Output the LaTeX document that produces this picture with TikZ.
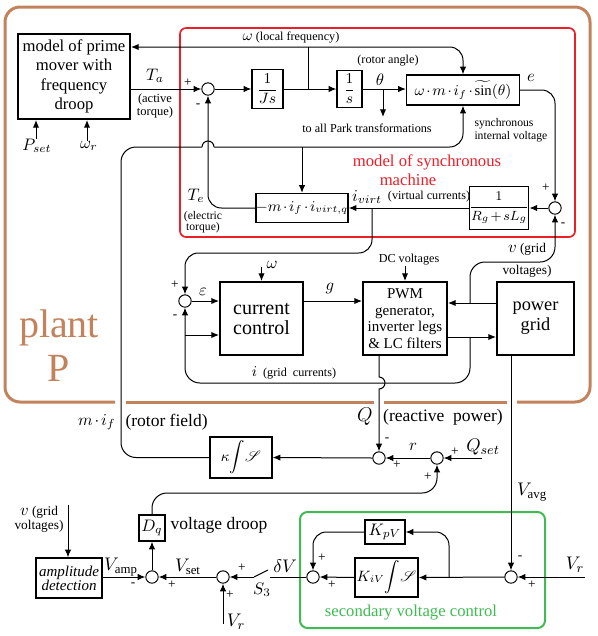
\documentclass[tikz,border=0pt]{standalone}
\usepackage{amsmath}
\usepackage{amssymb}
\usepackage{mathrsfs}
\usepackage{fontspec}
\setmainfont{Liberation Serif}
\usetikzlibrary{positioning,arrows.meta}

\definecolor{plantbrown}{RGB}{193,130,92}
\definecolor{machred}{RGB}{236,30,40}
\definecolor{ctrlgreen}{RGB}{64,186,82}

\begin{document}
\begin{tikzpicture}[x=0.6pt, y=-0.6pt, line width=0.6pt,
    >={Latex[length=4.6pt,width=3.8pt]},
    block/.style={draw, line width=0.8pt, inner sep=0pt, align=center, font=\fontsize{9}{10}\selectfont},
    mainblock/.style={draw, line width=1.2pt, inner sep=0pt, align=center},
    sumnode/.style={draw, circle, minimum size=7.4pt, inner sep=0pt},
    sgn/.style={inner sep=0pt, font=\fontsize{8}{8}\selectfont},
    note/.style={inner sep=0pt, align=center, font=\fontsize{7.3}{8.4}\selectfont},
    var/.style={inner sep=0pt, font=\fontsize{10}{11}\selectfont},
    region/.style={plantbrown, line width=1.8pt}]

    \useasboundingbox (0,0) rectangle (598,636);

    \draw [region, rounded corners=9pt] (115,402) -| (5,7) -| (590,402) -- (517,402);
    \draw [region] (507,402) -- (384,402);
    \draw [region] (374,402) -- (126,402);
    \draw [machred, line width=1pt, rounded corners=3.6pt] (180,28) rectangle (575,237);
    \draw [ctrlgreen, line width=1.2pt, rounded corners=4.5pt] (300,512) rectangle (545,628);

    \node [text=plantbrown, align=center, inner sep=0pt, font=\fontsize{24}{26.4}\selectfont] (plant) at (59,346) {plant\\P};
    \node [text=machred, inner sep=0pt, font=\fontsize{10}{11}\selectfont] (machtop) at (427,162) {model of synchronous};
    \node [text=machred, inner sep=0pt, font=\fontsize{10}{11}\selectfont] (machbot) at (408,180) {machine};
    \node [text=ctrlgreen, inner sep=0pt, font=\fontsize{10}{11}\selectfont] (secondary) at (411,613) {secondary voltage control};

    \node [mainblock, minimum width=67.2pt, minimum height=51pt, font=\fontsize{10}{11.7}\selectfont] (prime) at (74,76.5) {model of prime\\mover with\\frequency\\droop};
    \node [block, minimum width=18.6pt, minimum height=23.4pt] (Js) at (267.5,89) {$\dfrac{1}{Js}$};
    \node [block, minimum width=15pt, minimum height=22.2pt] (integ) at (349.5,89) {$\dfrac{1}{s}$};
    \node [block, minimum width=67.8pt, minimum height=18pt, font=\fontsize{8.8}{10}\selectfont] (emf) at (463,90) {\medmuskip=2mu $\omega\cdot m\cdot i_f\cdot\widetilde{\sin}(\theta)$};
    \node [block, minimum width=53.4pt, minimum height=17.4pt, font=\fontsize{8.8}{10}\selectfont] (torq) at (302,208) {\medmuskip=2mu $-m\cdot i_f\cdot i_{virt,q}$};
    \node [block, minimum width=34.8pt, minimum height=25.8pt, font=\fontsize{8.5}{10}\selectfont] (imp) at (499,208) {\medmuskip=2mu $\dfrac{1}{R_g+sL_g}$};
    \node [mainblock, minimum width=49.8pt, minimum height=43.8pt, font=\fontsize{12}{12}\selectfont] (cc) at (261.5,318.5) {current\\control};
    \node [mainblock, minimum width=50.4pt, minimum height=43.8pt, font=\fontsize{9}{10}\selectfont] (pwm) at (405,318.5) {PWM\\generator,\\inverter legs\\\& LC filters};
    \node [mainblock, minimum width=46.2pt, minimum height=43.8pt, font=\fontsize{11}{12}\selectfont] (grid) at (535.5,318.5) {power\\grid};
    \node [block, minimum width=37.2pt, minimum height=24.6pt] (kap) at (241,457.5) {$\kappa\!\displaystyle\int\!\mathscr{S}$};
    \node [block, minimum width=15.6pt, minimum height=15.6pt, font=\fontsize{10}{11}\selectfont] (dq) at (152,528) {$D_q$};
    \node [block, minimum width=24pt, minimum height=14.4pt, font=\fontsize{10}{11}\selectfont] (kpv) at (385,532) {$K_{pV}$};
    \node [block, minimum width=37.8pt, minimum height=23.4pt] (kiv) at (386.5,577.5) {$K_{iV}\!\displaystyle\int\!\mathscr{S}$};
    \node [block, minimum width=39.6pt, minimum height=24pt, font=\fontsize{9}{8.4}\selectfont\itshape] (amp) at (69,578) {amplitude\\detection};

    \node [sumnode] (sumT) at (208,89) {};
    \node [sumnode] (sumE) at (555,208) {};
    \node [sumnode] (sumI) at (185,301) {};
    \node [sumnode] (sumQ) at (379,458) {};
    \node [sumnode] (sumR) at (437,458) {};
    \node [sumnode] (sumA) at (511,577) {};
    \node [sumnode] (sumK) at (313,577) {};
    \node [sumnode] (sumV) at (223,577) {};
    \node [sumnode] (sumD) at (152,577) {};

    \node [sgn] (pT) at (188,83) {+};
    \node [sgn] (mT) at (198,106) {-};
    \node [sgn] (pE) at (546,188) {+};
    \node [sgn] (mE) at (563,225) {-};
    \node [sgn] (pI) at (175,285) {+};
    \node [sgn] (mI) at (175,317) {-};
    \node [sgn] (mQ) at (387,440) {-};
    \node [sgn] (pQ) at (397,465) {+};
    \node [sgn] (pR) at (455,452) {+};
    \node [sgn] (pRb) at (428,477) {+};
    \node [sgn] (mA) at (520,558) {-};
    \node [sgn] (pA) at (532,585) {+};
    \node [sgn] (pK) at (322,558) {+};
    \node [sgn] (pKb) at (332,585) {+};
    \node [sgn] (pV) at (242,568) {+};
    \node [sgn] (pVb) at (230,595) {+};
    \node [sgn] (mD) at (133,585) {-};
    \node [sgn] (pD) at (172,585) {+};

    \node [note] (omglbl) at (291,38) {{\fontsize{9}{9}\selectfont$\omega$} (local frequency)};
    \node [var] (Ta) at (155,76) {$T_a$};
    \node [note, font=\fontsize{7.5}{7.4}\selectfont] (Tanote) at (155,106) {(active\\torque)};
    \node [var] (thlbl) at (380,80) {$\theta$};
    \node [note] (rotang) at (388,61) {(rotor angle)};
    \node [note] (park) at (367,128) {to all Park transformations};
    \node [var] (elbl) at (531,78) {$e$};
    \node [note, align=left, anchor=west, font=\fontsize{7}{7.8}\selectfont] (synvolt) at (474,130) {synchronous\\internal voltage};
    \node [var] (Te) at (196,196) {$T_e$};
    \node [note, font=\fontsize{7}{6.6}\selectfont] (Tenote) at (203,222) {(electric\\torque)};
    \node [var] (ivirt) at (367,197) {$i_{virt}$};
    \node [note, right=3pt of ivirt] (virtcur) {(virtual currents)};
    \node [note, font=\fontsize{8}{8}\selectfont] (vgrid) at (527,249) {{\fontsize{10}{10}\selectfont$v$} (grid};
    \node [note, font=\fontsize{8}{8}\selectfont] (vgridb) at (527,271) {voltages)};
    \node [var] (eps) at (203,292) {$\varepsilon$};
    \node [var] (wcc) at (272,265) {$\omega$};
    \node [var] (glbl) at (330,289) {$g$};
    \node [note] (dc) at (409,260) {DC voltages};
    \node [note] (igrid) at (294,373) {{\fontsize{9}{9}\selectfont$i$}\ \ (grid\ \ currents)};
    \node [var, anchor=east] (mif) at (116,422) {\medmuskip=2mu $m\cdot i_f$};
    \node [var, anchor=west, font=\fontsize{10.5}{11}\selectfont] (rotfield) at (125,422) {(rotor field)};
    \node [var, font=\fontsize{12}{12}\selectfont] (Qlbl) at (365,417) {$Q$};
    \node [var, font=\fontsize{10.5}{11}\selectfont] (reacpow) at (443,417) {(reactive\ \ power)};
    \node [var] (rlbl) at (413,447) {$r$};
    \node [var, font=\fontsize{11}{11}\selectfont] (Qset) at (483,447) {$Q_{set}$};
    \node [var, font=\fontsize{11}{11}\selectfont] (Vavg) at (532,492) {$V_{\mathrm{avg}}$};
    \node [var, font=\fontsize{11}{11}\selectfont] (Vr) at (575,565) {$V_r$};
    \node [var, font=\fontsize{11}{11}\selectfont] (dV) at (285,566) {$\delta V$};
    \node [var] (S3) at (262,590) {$S_3$};
    \node [var, font=\fontsize{11}{11}\selectfont] (Vrb) at (236,622) {$V_r$};
    \node [var, font=\fontsize{11}{11}\selectfont] (Vset) at (188,567) {$V_{\mathrm{set}}$};
    \node [var, font=\fontsize{11}{11}\selectfont] (Vamp) at (121,567) {$V_{\mathrm{amp}}$};
    \node [var, font=\fontsize{10.5}{11}\selectfont] (droop) at (219,525) {voltage droop};
    \node [note, font=\fontsize{8}{8.4}\selectfont] (vamp) at (39,519) {{\fontsize{10}{10}\selectfont$v$} (grid\\voltages)};
    \node [var] (Pset) at (37,146) {$P_{set}$};
    \node [var] (wr) at (89,146) {$\omega_r$};

    \draw [->] (Pset.north -| 36,0) -- (prime.south -| 36,0);
    \draw [->] (wr.north -| 87,0) -- (prime.south -| 87,0);

    \coordinate (wbr) at (308,89);
    \coordinate (wtop) at (308,47);
    \coordinate (thbr) at (383,89);
    \draw [->] (prime.east |- sumT) -- (sumT.west);
    \draw [->] (sumT.east) -- (Js.west);
    \draw [->] (Js.east) -- (integ.west);
    \draw (wbr) -- (wtop);
    \draw [<->, rounded corners=8pt] (prime.east |- wtop) -| (emf.north);
    \draw [->] (integ.east) -- (integ.east -| emf.west);
    \draw [->] (thbr) -- ++(0,28);
    \draw [->, rounded corners=8pt] (emf.east) -| (sumE.north);

    \coordinate (ivbr) at (372,208);
    \draw [->] (sumE.west) -- (imp.east);
    \draw [->] (imp.west) -- (torq.east);
    \draw [->, rounded corners=8pt] (ivbr) -- ++(0,45) -| (sumI.north);
    \draw [->, rounded corners=8pt] (torq.west) -| (sumT.south);

    \coordinate (rfcorner) at (121,147);
    \coordinate (hopL) at (202,147);
    \coordinate (hopR) at (214,147);
    \draw [rounded corners=9pt] (kap.west) -| (rfcorner) -- (hopL);
    \draw (hopL) arc[start angle=180, end angle=0, radius=3.6pt];
    \draw [->, rounded corners=8pt] (hopR) -| (emf.south);
    \draw [->] (torq.north |- rfcorner) -- (torq.north);

    \coordinate (ibr) at (185,335);
    \coordinate (gridv) at (470,303);
    \coordinate (gridi) at (470,337);
    \coordinate (vtop) at (555,262);
    \coordinate (ibot) at (185,383);
    \draw [->] (sumI.east) -- (sumI.east -| cc.west);
    \draw [->] (ibr) -- (ibr -| cc.west);
    \draw [->] ([yshift=8.4pt]cc.north) -- (cc.north);
    \draw [->] (cc.east |- sumI) -- (pwm.west |- sumI);
    \draw [->] (dc.south -| pwm.north) -- (pwm.north);
    \draw [->] (grid.west |- gridv) -- (pwm.east |- gridv);
    \draw [->] (pwm.east |- gridi) -- (grid.west |- gridi);
    \draw [->, rounded corners=9pt] (gridv) |- (vtop) -- (sumE.south);
    \draw [->, rounded corners=9pt] (gridi) |- (ibot) -- (sumI.south);

    \coordinate (qtop) at (379,377);
    \draw [->] (pwm.south -| qtop) -- (qtop) arc[start angle=90, end angle=-90, radius=3.6pt] -- (sumQ.north);
    \draw [->] (grid.south -| sumA) -- (sumA.north);

    \coordinate (vrin) at (585,577);
    \coordinate (kbr) at (449,577);
    \coordinate (swR) at (270,577);
    \coordinate (swL) at (254,577);
    \coordinate (vrbot) at (223,624);
    \draw [->] (vrin) -- (sumA.east);
    \draw [->] (sumA.west) -- (kiv.east);
    \draw [->, rounded corners=8pt] (kbr) |- (kpv.east);
    \draw [->] (kiv.west) -- (sumK.east);
    \draw [->, rounded corners=8pt] (kpv.west) -| (sumK.north);
    \draw (sumK.west) -- (swR);
    \draw (swL) -- ++(14,-7);
    \draw [->] (swL) -- (sumV.east);
    \draw [->] (vrbot) -- (sumV.south);
    \draw [->] (sumV.west) -- (sumD.east);
    \draw [->] (amp.east |- sumD) -- (sumD.west);
    \draw [->] (sumD.north) -- (dq.south);

    \coordinate (dqup) at (152,493);
    \coordinate (qsetin) at (482,458);
    \coordinate (vampin) at (68,505);
    \draw [->, rounded corners=9pt] (dq.north) -- (dqup) -| (sumR.south);
    \draw [->] (qsetin) -- (sumR.east);
    \draw [->] (sumR.west) -- (sumQ.east);
    \draw [->] (sumQ.west) -- (kap.east);
    \draw [->] (vampin) -- (vampin |- amp.north);

\end{tikzpicture}
\end{document}
